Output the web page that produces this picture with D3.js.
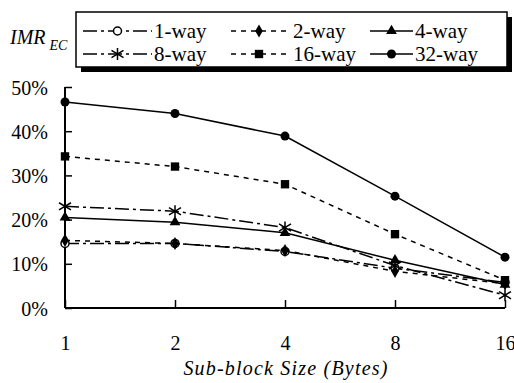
<!DOCTYPE html>
<html>
<head>
<meta charset="utf-8">
<script src="https://cdn.jsdelivr.net/npm/d3@7"></script>
<style>
  body { margin: 0; background: #fff; }
</style>
</head>
<body>
<div id="chart"></div>
<script>
const width = 514;
const height = 383;
const serif = "'Liberation Serif', 'Times New Roman', Times, serif";

const sizes = ["1", "2", "4", "8", "16"];
const yTicks = [0, 10, 20, 30, 40, 50];

const oneWay = [14.6, 14.6, 12.8, 9.0, 5.8];
const twoWay = [15.3, 14.6, 13.0, 8.3, 5.5];
const fourWay = [20.5, 19.4, 17.0, 10.8, 5.3];
const eightWay = [23.0, 21.9, 18.2, 9.6, 2.9];
const sixteenWay = [34.3, 32.0, 28.0, 16.7, 6.3];
const thirtyTwoWay = [46.6, 44.0, 38.9, 25.3, 11.5];

const seriesNames = ["1-way", "2-way", "4-way", "8-way", "16-way", "32-way"];
const seriesValues = [oneWay, twoWay, fourWay, eightWay, sixteenWay, thirtyTwoWay];
const dashes = ["14,4,3,4", "5,5", null, "14,4,3,4", "5,5", null];
const symbols = ["openCircle", "diamond", "triangle", "asterisk", "square", "circle"];

const series = seriesNames.map((name, i) => ({
  name: name, values: seriesValues[i], dash: dashes[i], symbol: symbols[i]
}));

const plotLeft = 65, plotRight = 505, plotTop = 87, plotBottom = 308;

const x = d3.scalePoint().domain(sizes).range([plotLeft, plotRight]);
const y = d3.scaleLinear().domain([0, 50]).range([plotBottom, plotTop]);

const svg = d3.select("#chart").append("svg")
  .attr("width", width)
  .attr("height", height)
  .style("font-family", serif);

// axes
const yAxis = svg.append("g")
  .attr("transform", `translate(${plotLeft},0)`)
  .call(d3.axisRight(y).tickValues(yTicks).tickSize(7).tickFormat(d => d + "%"));
yAxis.attr("font-family", null).attr("font-size", null);
yAxis.select(".domain").attr("stroke-width", 2).attr("d", `M0,${plotTop}V${plotBottom}`);
yAxis.selectAll(".tick line").attr("stroke-width", 1.5);
yAxis.selectAll(".tick text")
  .attr("x", -17).attr("text-anchor", "end").attr("dy", "0.35em")
  .style("font-family", serif)
  .style("font-size", "20px");

const xAxis = svg.append("g")
  .attr("transform", `translate(0,${plotBottom})`)
  .call(d3.axisTop(x).tickSize(8));
xAxis.attr("font-family", null).attr("font-size", null);
xAxis.select(".domain").attr("stroke-width", 2).attr("d", `M${plotLeft},0H${plotRight}`);
xAxis.selectAll(".tick line").attr("stroke-width", 1.5);
xAxis.selectAll(".tick text")
  .attr("y", 35).attr("dy", "0.35em")
  .style("font-family", serif)
  .style("font-size", "20px");

svg.append("text")
  .attr("x", 286).attr("y", 375)
  .attr("text-anchor", "middle")
  .style("font-family", serif)
  .style("font-size", "20px")
  .style("font-style", "italic")
  .style("letter-spacing", "1.2px")
  .text("Sub-block Size (Bytes)");

// symbols
function drawSymbol(g, type, cx, cy) {
  if (type === "openCircle") {
    g.append("circle").attr("cx", cx).attr("cy", cy).attr("r", 4)
      .attr("fill", "#fff").attr("stroke", "#000").attr("stroke-width", 1.5);
  } else if (type === "circle") {
    g.append("circle").attr("cx", cx).attr("cy", cy).attr("r", 4.5).attr("fill", "#000");
  } else if (type === "asterisk") {
    const s = 6;
    g.append("path")
      .attr("d", `M${cx - s},${cy - s * 0.6}L${cx + s},${cy + s * 0.6}M${cx - s},${cy + s * 0.6}L${cx + s},${cy - s * 0.6}M${cx},${cy - s}V${cy + s}`)
      .attr("stroke", "#000").attr("stroke-width", 1.5).attr("fill", "none");
  } else {
    const map = { diamond: d3.symbolDiamond, triangle: d3.symbolTriangle, square: d3.symbolSquare };
    const sz = { diamond: 50, triangle: 50, square: 70 };
    g.append("path")
      .attr("transform", `translate(${cx},${cy})`)
      .attr("d", d3.symbol().type(map[type]).size(sz[type])())
      .attr("fill", "#000");
  }
}

const line = d3.line()
  .x((d, i) => x(sizes[i]))
  .y(d => y(d));

series.forEach(s => {
  svg.append("path")
    .datum(s.values)
    .attr("d", line)
    .attr("fill", "none")
    .attr("stroke", "#000")
    .attr("stroke-width", 1.5)
    .attr("stroke-dasharray", s.dash);
  const g = svg.append("g");
  s.values.forEach((v, i) => drawSymbol(g, s.symbol, x(sizes[i]), y(v)));
});

// legend
const lg = svg.append("g");
lg.append("rect").attr("x", 81).attr("y", 17).attr("width", 431).attr("height", 55).attr("fill", "#000");
lg.append("rect").attr("x", 76).attr("y", 12).attr("width", 431).attr("height", 55)
  .attr("fill", "#fff").attr("stroke", "#000").attr("stroke-width", 1.5);

const colLine = [[83, 152], [231, 287], [370, 413]];
const colText = [154, 293, 415];
const rowY = [31, 54];
series.forEach((s, i) => {
  const c = i % 3, r = Math.floor(i / 3);
  const cy = rowY[r];
  lg.append("line")
    .attr("x1", colLine[c][0]).attr("x2", colLine[c][1])
    .attr("y1", cy).attr("y2", cy)
    .attr("stroke", "#000").attr("stroke-width", 1.5)
    .attr("stroke-dasharray", s.dash);
  drawSymbol(lg, s.symbol, (colLine[c][0] + colLine[c][1]) / 2, cy);
  lg.append("text")
    .attr("x", colText[c]).attr("y", cy).attr("dy", "0.35em")
    .style("font-family", serif)
    .style("font-size", "21px")
    .text(s.name);
});

const imr = svg.append("text").attr("x", 10).attr("y", 44)
  .style("font-family", serif)
  .style("font-style", "italic").style("font-size", "20px");
imr.append("tspan").text("IMR");
imr.append("tspan").attr("dx", 4).attr("dy", 6).style("font-size", "14px").text("EC");
</script>
</body>
</html>
